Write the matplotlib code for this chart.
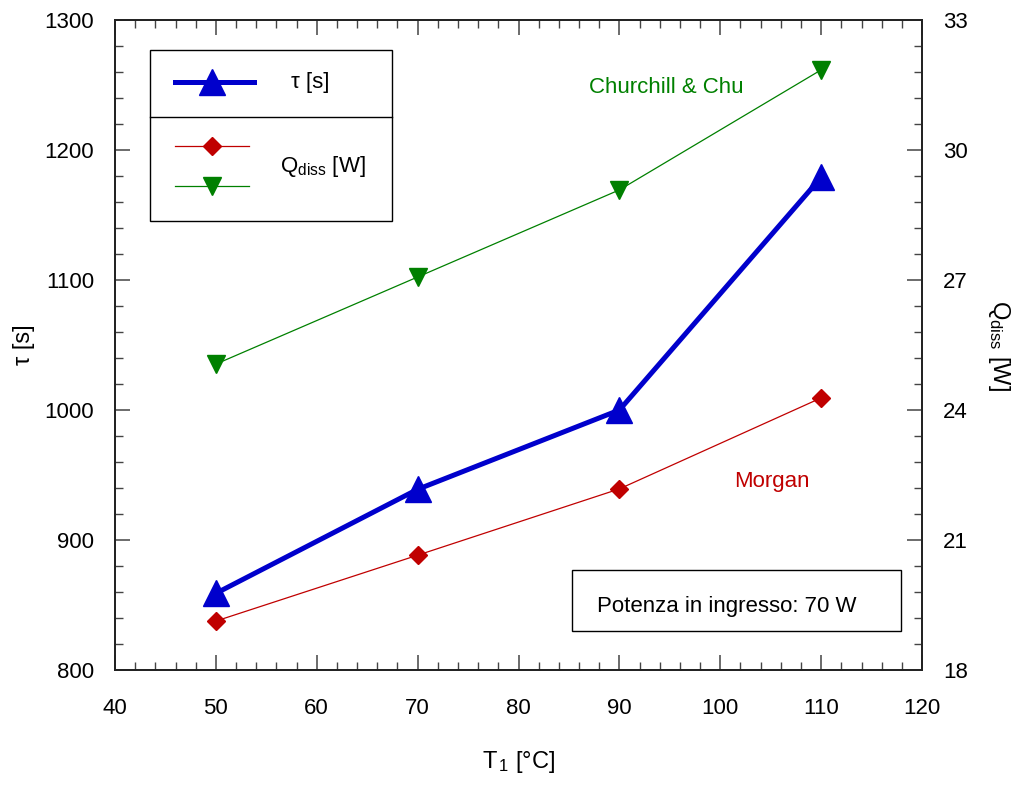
import matplotlib.pyplot as plt
from matplotlib.ticker import MultipleLocator
from matplotlib.lines import Line2D
from matplotlib.patches import Rectangle

plt.rcParams['font.family'] = ['Liberation Sans', 'DejaVu Sans']
plt.rcParams['mathtext.fontset'] = 'custom'
plt.rcParams['mathtext.rm'] = 'Liberation Sans'
plt.rcParams['mathtext.it'] = 'Liberation Sans:italic'
plt.rcParams['mathtext.bf'] = 'Liberation Sans:bold'

# data
t1 = [50, 70, 90, 110]
tau = [859, 939, 1000, 1179]
q_morgan = [19.13, 20.65, 22.18, 24.28]
q_churchill = [25.06, 27.07, 29.08, 31.85]

blue = '#0000cc'
red = '#c00000'
green = '#008000'
tick_col = '#444444'
fs = 16

fig = plt.figure(figsize=(10.23, 7.92), dpi=100)
ax = fig.add_axes([0.1124, 0.154, 0.7889, 0.8207])
ax2 = ax.twinx()

ax.plot(t1, tau, color=blue, lw=3.6, marker='^', ms=19, zorder=5)
ax2.plot(t1, q_morgan, color=red, lw=0.9, marker='D', ms=9)
ax2.plot(t1, q_churchill, color=green, lw=0.9, marker='v', ms=12.5)

ax.set_xlim(40, 120)
ax.set_ylim(800, 1300)
ax2.set_ylim(18, 33)

ax.xaxis.set_major_locator(MultipleLocator(10))
ax.xaxis.set_minor_locator(MultipleLocator(2))
ax.yaxis.set_major_locator(MultipleLocator(100))
ax.yaxis.set_minor_locator(MultipleLocator(20))
ax2.yaxis.set_major_locator(MultipleLocator(3))
ax2.yaxis.set_minor_locator(MultipleLocator(0.6))

ax.tick_params(axis='x', which='both', direction='in', top=True, bottom=True,
               colors=tick_col, labelcolor='black', labelsize=fs, pad=20)
ax.tick_params(axis='y', which='both', direction='in', left=True, right=False,
               colors=tick_col, labelcolor='black', labelsize=fs, pad=15)
ax2.tick_params(axis='y', which='both', direction='in', right=True,
                colors=tick_col, labelcolor='black', labelsize=fs, pad=15)
for a in (ax, ax2):
    a.tick_params(which='major', length=11, width=1.1)
    a.tick_params(which='minor', length=6, width=1.0)
    for s in a.spines.values():
        s.set_color('#222222')
        s.set_linewidth(1.3)

ax.set_xlabel(r'T$_{\,1}$ [°C]', fontsize=17, labelpad=22)
ax.set_ylabel('τ [s]', fontsize=17, labelpad=7)
ax2.set_ylabel(r'Q$_{\rm diss}$ [W]', fontsize=17, rotation=270, labelpad=32)

ax.text(94.6, 1248, 'Churchill & Chu', color=green, fontsize=fs, ha='center', va='center')
ax.text(105.1, 945, 'Morgan', color=red, fontsize=fs, ha='center', va='center')

tr = ax.transAxes

# info box
bx0, bx1 = (572 - 115) / 807, (901 - 115) / 807
by0, by1 = 1 - (631 - 20) / 650, 1 - (570 - 20) / 650
ax.add_patch(Rectangle((bx0, by0), bx1 - bx0, by1 - by0, transform=tr,
                       fc='white', ec='black', lw=1.0, zorder=6))
ax.text((597 - 115) / 807, 1 - (606 - 20) / 650, 'Potenza in ingresso: 70 W', transform=tr,
        fontsize=fs, ha='left', va='center', zorder=7)

# custom legend box
lx0, lx1 = (150 - 115) / 807, (392 - 115) / 807
ly0, ly1 = 1 - (221 - 20) / 650, 1 - (50 - 20) / 650
ymid = 1 - (117 - 20) / 650
ax.add_patch(Rectangle((lx0, ly0), lx1 - lx0, ly1 - ly0, transform=tr,
                       fill=False, ec='black', lw=1.0, zorder=6))
ax.add_line(Line2D([lx0, lx1], [ymid, ymid], transform=tr, color='black', lw=1.0, zorder=6))

sx = [(175 - 115) / 807, (254 - 115) / 807]
sx2 = [(175 - 115) / 807, (249 - 115) / 807]
sm = (212 - 115) / 807
yrow = [1 - (82 - 20) / 650, 1 - (146 - 20) / 650, 1 - (186 - 20) / 650]
ax.add_line(Line2D(sx, [yrow[0]] * 2, transform=tr, color=blue, lw=3.6, zorder=6))
ax.add_line(Line2D([sm], [yrow[0]], transform=tr, color=blue, marker='^', ms=19, zorder=6))
ax.add_line(Line2D(sx2, [yrow[1]] * 2, transform=tr, color=red, lw=0.9, zorder=6))
ax.add_line(Line2D([sm], [yrow[1]], transform=tr, color=red, marker='D', ms=9, zorder=6))
ax.add_line(Line2D(sx2, [yrow[2]] * 2, transform=tr, color=green, lw=0.9, zorder=6))
ax.add_line(Line2D([sm], [yrow[2]], transform=tr, color=green, marker='v', ms=12.5, zorder=6))
ax.text((310 - 115) / 807, yrow[0], 'τ [s]', transform=tr, fontsize=fs, ha='center', va='center', zorder=7)
ax.text((323 - 115) / 807, 1 - (166 - 20) / 650, r'Q$_{\rm diss}$ [W]', transform=tr,
        fontsize=fs, ha='center', va='center', zorder=7)

fig.savefig('out.png', dpi=100)
